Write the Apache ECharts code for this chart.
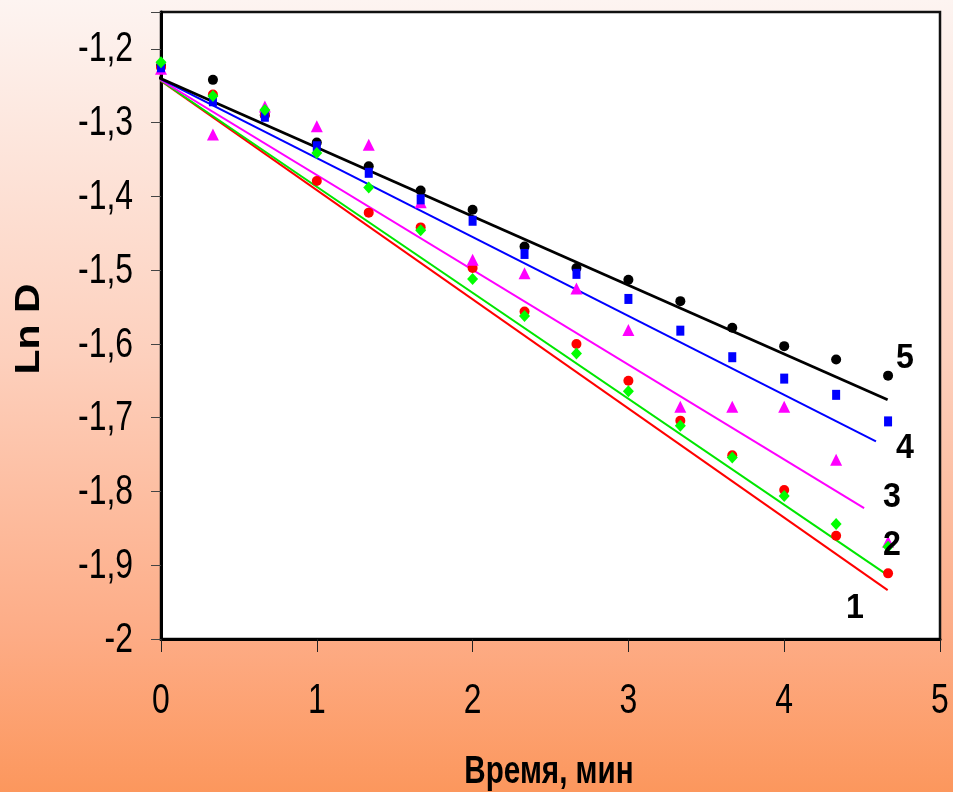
<!DOCTYPE html>
<html>
<head>
<meta charset="utf-8">
<script src="https://cdn.jsdelivr.net/npm/echarts@6/dist/echarts.min.js"></script>
<style>
  html, body { margin: 0; padding: 0; }
  #chart { width: 953px; height: 792px; }
</style>
</head>
<body>
<div id="chart"></div>
<script>
// Time points, min (every 20 s)
const times = [0, 1/3, 2/3, 1, 4/3, 5/3, 2, 7/3, 8/3, 3, 10/3, 11/3, 4, 13/3, 14/3];

// Ln D measured for the five samples
const lnD1 = [-1.225, -1.262, -1.289, -1.379, -1.422, -1.442, -1.497, -1.556, -1.600, -1.650, -1.704, -1.751, -1.798, -1.860, -1.911];
const lnD2 = [-1.218, -1.264, -1.283, -1.341, -1.388, -1.446, -1.512, -1.562, -1.613, -1.664, -1.711, -1.754, -1.806, -1.844, -1.875];
const lnD3 = [-1.227, -1.316, -1.278, -1.305, -1.330, -1.408, -1.486, -1.504, -1.525, -1.581, -1.685, -1.685, -1.685, -1.757, -1.868];
const lnD4 = [-1.225, -1.271, -1.292, -1.332, -1.368, -1.404, -1.433, -1.478, -1.505, -1.539, -1.582, -1.618, -1.647, -1.669, -1.705];
const lnD5 = [-1.223, -1.242, -1.290, -1.327, -1.359, -1.392, -1.418, -1.468, -1.497, -1.513, -1.542, -1.578, -1.603, -1.621, -1.643];

// Regression lines: start and end points [time, Ln D]
const fit1 = [[-0.06, -1.2347], [4.664, -1.9338]];
const fit2 = [[-0.06, -1.2347], [4.664, -1.9135]];
const fit3 = [[-0.06, -1.2347], [4.513, -1.8226]];
const fit4 = [[-0.06, -1.2347], [4.589, -1.7320]];
const fit5 = [[-0.06, -1.2347], [4.664, -1.6757]];

const curveNames = ['1', '2', '3', '4', '5'];
const xTicks = [0, 1, 2, 3, 4, 5];
const yTicks = [-2, -1.9, -1.8, -1.7, -1.6, -1.5, -1.4, -1.3, -1.2];

const xTitle = 'Время, мин';
const yTitle = 'Ln D';

const pairs = (ys) => times.map((t, i) => [t, ys[i]]);
const fmtY = (v) => String(Math.round(v * 10) / 10).replace('.', ',');

const sans = '"Liberation Sans", Arial, sans-serif';
// condensed look of the typeface used for all texts
const SQUEEZE = 0.76;

function lineSeries(name, data, color, width) {
  return {
    name: name, type: 'line', data: data, clip: false, symbol: 'none',
    lineStyle: { color: color, width: width }, z: 2, silent: true, animation: false
  };
}
function pointSeries(name, data, color, symbol, size, z) {
  return {
    name: name, type: 'scatter', data: data, symbol: symbol, symbolSize: size,
    itemStyle: { color: color, opacity: 1 }, z: z, animation: false
  };
}

const chart = echarts.init(document.getElementById('chart'), null, { renderer: 'canvas' });

chart.setOption({
  animation: false,
  backgroundColor: {
    type: 'linear', x: 0, y: 0, x2: 0, y2: 1,
    colorStops: [
      { offset: 0, color: '#fdf4f1' },
      { offset: 0.45, color: '#fdd0bd' },
      { offset: 0.8, color: '#fdac86' },
      { offset: 1, color: '#fc975d' }
    ]
  },
  grid: {
    left: 161, right: 13, top: 12, bottom: 153,
    show: true, backgroundColor: '#ffffff', borderColor: '#111', borderWidth: 2.5
  },
  xAxis: {
    type: 'value', min: 0, max: 5, interval: 1,
    axisLine: { show: true, onZero: false, lineStyle: { color: '#000', width: 3 } },
    axisTick: { show: true, length: 13, lineStyle: { color: '#222', width: 1 } },
    axisLabel: { show: false },
    splitLine: { show: false }
  },
  yAxis: {
    type: 'value', min: -2, max: -1.15, interval: 0.1,
    axisLine: { show: true, onZero: false, lineStyle: { color: '#000', width: 3 } },
    axisTick: { show: true, length: 10, lineStyle: { color: '#444', width: 1 } },
    axisLabel: { show: false },
    splitLine: { show: false }
  },
  series: [
    lineSeries(curveNames[0], fit1, '#ff0000', 2),
    lineSeries(curveNames[1], fit2, '#00e600', 2),
    lineSeries(curveNames[2], fit3, '#ff00ff', 2),
    lineSeries(curveNames[3], fit4, '#0000ff', 2),
    lineSeries(curveNames[4], fit5, '#000000', 2.8),
    pointSeries(curveNames[4], pairs(lnD5), '#000000', 'circle', 10, 3),
    pointSeries(curveNames[0], pairs(lnD1), '#ff0000', 'circle', 10, 4),
    pointSeries(curveNames[2], pairs(lnD3), '#ff00ff', 'triangle', 12, 5),
    pointSeries(curveNames[3], pairs(lnD4), '#0000ff', 'rect', [8, 10], 6),
    pointSeries(curveNames[1], pairs(lnD2), '#00ff00', 'diamond', [11, 12], 7)
  ]
});

// Tick labels and titles are drawn as condensed text placed through the axes' own scales
function txt(x, y, text, opts) {
  return {
    type: 'text', x: x, y: y, z: 10, scaleX: SQUEEZE,
    style: Object.assign({
      text: text, fontFamily: sans, fontSize: 42, fill: '#000',
      textAlign: 'center', textVerticalAlign: 'middle'
    }, opts || {})
  };
}

const graphics = [];
xTicks.forEach((t) => {
  const p = chart.convertToPixel({ xAxisIndex: 0, yAxisIndex: 0 }, [t, -2]);
  graphics.push(txt(p[0], p[1] + 62, String(t)));
});
yTicks.forEach((t) => {
  const p = chart.convertToPixel({ xAxisIndex: 0, yAxisIndex: 0 }, [0, t]);
  graphics.push(txt(p[0] - 28, p[1] + 1, fmtY(t), { textAlign: 'right' }));
});

const yt = txt(29, 329, yTitle, { fontWeight: 'bold', fontSize: 41 });
yt.rotation = Math.PI / 2;
yt.scaleX = 1; yt.scaleY = SQUEEZE + 0.08;
graphics.push(yt);
graphics.push(txt(549, 772, xTitle, { fontWeight: 'bold', fontSize: 39 }));

// curve numbers next to the line ends
const tags = [[855, 608], [892, 545], [892, 497], [905, 448], [905, 358]];
tags.forEach((pos, i) => {
  const g = txt(pos[0], pos[1], curveNames[i], { fontWeight: 'bold', fontSize: 35 });
  g.scaleX = 0.92;
  graphics.push(g);
});

chart.setOption({ graphic: graphics });
</script>
</body>
</html>
